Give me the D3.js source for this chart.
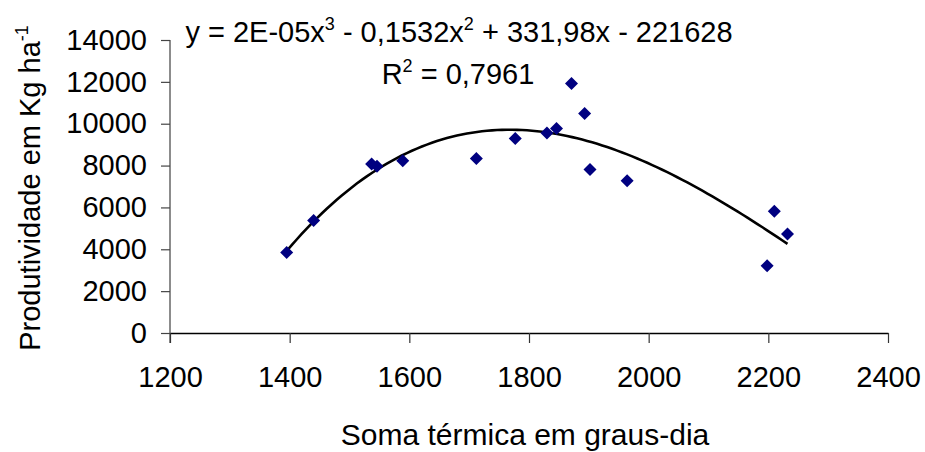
<!DOCTYPE html>
<html>
<head>
  <meta charset="utf-8">
  <script src="https://d3js.org/d3.v7.min.js"></script>
  <style>
    body { margin: 0; background: #fff; }
    text { font-family: 'Liberation Sans', Arial, sans-serif; fill: #000; }
  </style>
</head>
<body>
  <div id="chart"></div>
  <script>
    // Soma térmica (graus-dia) and produtividade (Kg/ha)
    const somaTermica = [1395, 1440, 1537, 1546, 1589, 1712, 1777, 1830, 1846, 1871, 1893, 1902, 1964, 2198, 2210, 2232];
    const produtividade = [3850, 5370, 8070, 7970, 8230, 8340, 9290, 9560, 9770, 11920, 10490, 7810, 7270, 3210, 5820, 4730];
    const xTicks = [1200, 1400, 1600, 1800, 2000, 2200, 2400];
    const yTicks = [0, 2000, 4000, 6000, 8000, 10000, 12000, 14000];

    const width = 925, height = 452;
    const plotLeft = 170, plotRight = 888, plotTop = 40, plotBottom = 333;
    const fontSize = 29;

    const svg = d3.select("#chart").append("svg")
      .attr("width", width)
      .attr("height", height);

    const x = d3.scaleLinear().domain([1200, 2400]).range([plotLeft, plotRight]);
    const y = d3.scaleLinear().domain([0, 14000]).range([plotBottom, plotTop]);

    // y axis
    const yAxis = svg.append("g")
      .attr("transform", "translate(" + plotLeft + ",0)")
      .call(d3.axisLeft(y).tickValues(yTicks).tickFormat(d3.format("d"))
        .tickSize(9).tickPadding(14).tickSizeOuter(0));
    yAxis.select(".domain").attr("stroke", "#666").attr("stroke-width", 1.5)
      .attr("d", "M0," + plotTop + "V" + (plotBottom + 10));
    yAxis.selectAll(".tick line").attr("stroke", "#444").attr("stroke-width", 1.2);
    yAxis.selectAll("text").style("font-size", fontSize + "px").attr("font-family", null);

    // x axis
    const xAxis = svg.append("g")
      .attr("transform", "translate(0," + plotBottom + ")")
      .call(d3.axisBottom(x).tickValues(xTicks).tickFormat(d3.format("d"))
        .tickSize(10).tickPadding(23).tickSizeOuter(0));
    xAxis.select(".domain").attr("stroke", "#000").attr("stroke-width", 1.5);
    xAxis.selectAll(".tick line").attr("stroke", "#333").attr("stroke-width", 1.2);
    xAxis.selectAll("text").style("font-size", fontSize + "px").attr("font-family", null);

    // cubic trendline fitted to the points (least squares)
    function cubicFit(xs, ys) {
      const c = 1800, s = 100;
      const A = [[0,0,0,0],[0,0,0,0],[0,0,0,0],[0,0,0,0]];
      const b = [0,0,0,0];
      xs.forEach(function(xv, k) {
        const t = (xv - c) / s;
        const p = [1, t, t * t, t * t * t];
        for (let i = 0; i < 4; i++) {
          b[i] += p[i] * ys[k];
          for (let j = 0; j < 4; j++) A[i][j] += p[i] * p[j];
        }
      });
      // gaussian elimination
      for (let i = 0; i < 4; i++) {
        for (let r = i + 1; r < 4; r++) {
          const f = A[r][i] / A[i][i];
          for (let j = i; j < 4; j++) A[r][j] -= f * A[i][j];
          b[r] -= f * b[i];
        }
      }
      const coef = [0,0,0,0];
      for (let i = 3; i >= 0; i--) {
        let sum = b[i];
        for (let j = i + 1; j < 4; j++) sum -= A[i][j] * coef[j];
        coef[i] = sum / A[i][i];
      }
      return function(xv) {
        const t = (xv - c) / s;
        return coef[0] + coef[1] * t + coef[2] * t * t + coef[3] * t * t * t;
      };
    }

    const fit = cubicFit(somaTermica, produtividade);
    const x0 = d3.min(somaTermica), x1 = d3.max(somaTermica);
    const curve = d3.range(0, 101).map(function(i) {
      const xv = x0 + (x1 - x0) * i / 100;
      return [xv, fit(xv)];
    });

    svg.append("path")
      .datum(curve)
      .attr("fill", "none")
      .attr("stroke", "#000")
      .attr("stroke-width", 2.6)
      .attr("d", d3.line().x(function(d) { return x(d[0]); }).y(function(d) { return y(d[1]); }));

    // diamond markers
    svg.append("g").selectAll("path")
      .data(somaTermica)
      .join("path")
      .attr("fill", "#000080")
      .attr("d", function(d, i) {
        const cx = x(d), cy = y(produtividade[i]), r = 6.5;
        return "M" + cx + "," + (cy - r) + "L" + (cx + r) + "," + cy + "L" + cx + "," + (cy + r) + "L" + (cx - r) + "," + cy + "Z";
      });

    // equation
    const eq = svg.append("text")
      .attr("x", 459)
      .attr("y", 42)
      .attr("text-anchor", "middle")
      .style("font-size", fontSize + "px");
    eq.append("tspan").text("y = 2E-05x");
    eq.append("tspan").attr("dy", -12).style("font-size", "18px").text("3");
    eq.append("tspan").attr("dy", 12).text(" - 0,1532x");
    eq.append("tspan").attr("dy", -12).style("font-size", "18px").text("2");
    eq.append("tspan").attr("dy", 12).text(" + 331,98x - 221628");

    const r2 = svg.append("text")
      .attr("x", 458)
      .attr("y", 84)
      .attr("text-anchor", "middle")
      .style("font-size", fontSize + "px");
    r2.append("tspan").text("R");
    r2.append("tspan").attr("dy", -12).style("font-size", "18px").text("2");
    r2.append("tspan").attr("dy", 12).text(" = 0,7961");

    // axis titles
    svg.append("text")
      .attr("x", 525)
      .attr("y", 445)
      .attr("text-anchor", "middle")
      .style("font-size", "30px")
      .text("Soma térmica em graus-dia");

    const yt = svg.append("text")
      .attr("transform", "translate(40,188) rotate(-90)")
      .attr("text-anchor", "middle")
      .style("font-size", fontSize + "px");
    yt.append("tspan").text("Produtividade em Kg ha");
    yt.append("tspan").attr("dy", -12).style("font-size", "18px").text("-1");
  </script>
</body>
</html>
